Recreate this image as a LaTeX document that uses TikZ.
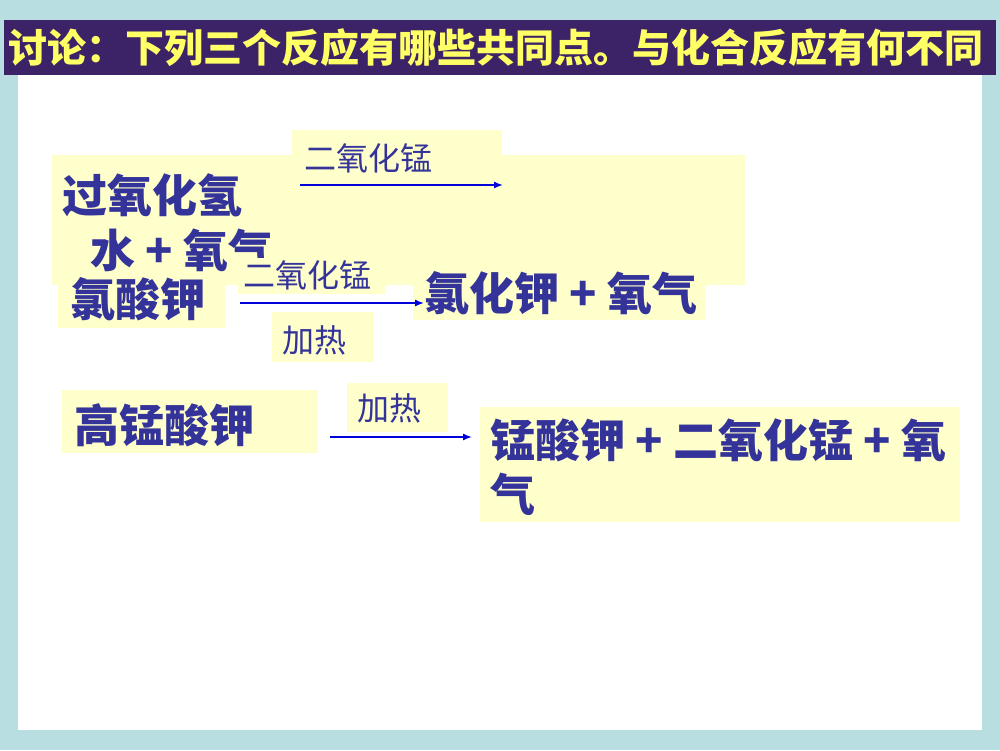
\documentclass[tikz,border=0pt]{standalone}
\usepackage{fontspec}
\newfontfamily\cjk{Noto Sans CJK SC}
\definecolor{frame}{HTML}{B8DEE2}
\definecolor{bar}{HTML}{3C2266}
\definecolor{ink}{HTML}{333399}
\definecolor{pad}{HTML}{FFFFCC}
\definecolor{gold}{HTML}{FFFF66}
\tikzset{
  padbox/.style={fill=pad, draw=none},
  bigtext/.style={anchor=west, text=ink, font=\cjk\bfseries\fontsize{45}{50}\selectfont, inner sep=0pt},
  smalltext/.style={anchor=west, text=ink, font=\cjk\fontsize{32}{35}\selectfont, inner sep=0pt},
  arr/.style={blue!85!black, line width=1.4pt, -{Latex[length=9pt,width=7pt]}}
}
\usetikzlibrary{arrows.meta}
\begin{document}
\begin{tikzpicture}[x=1pt,y=-1pt]
  % Fondo
  \fill[frame] (0,0) rectangle (1000,750);
  \useasboundingbox (0,0) rectangle (1000,750);
  \fill[white] (18,75) rectangle (982,730);
  \fill[bar] (4,20) rectangle (996,75);
  \node[anchor=west, text=gold, font=\cjk\bfseries\fontsize{39}{42}\selectfont, inner sep=0pt] (title) at (8,48) {讨论：下列三个反应有哪些共同点。与化合反应有何不同};

  % Primera reacción
  \fill[padbox] (52,155) rectangle (745,285);
  \node[bigtext] (h2o2) at (62,195) {过氧化氢};
  \node[bigtext] (water) at (90,250) {水 + 氧气};
  \fill[padbox] (292,130) rectangle (502,190);
  \node[smalltext] (cat1) at (304,158) {二氧化锰};
  \coordinate (a1s) at (300,185);
  \coordinate (a1e) at (503,185);
  \draw[arr] (a1s) -- (a1e);

  % Segunda reacción
  \fill[padbox] (238,258) rectangle (385,294);
  \node[smalltext] (cat2) at (243,275) {二氧化锰};
  \fill[padbox] (58,275) rectangle (225,328);
  \node[bigtext] (kclo3) at (70,299) {氯酸钾};
  \fill[padbox] (413,265) rectangle (705,320);
  \node[bigtext] (kcl) at (424,293) {氯化钾 + 氧气};
  \fill[padbox] (272,312) rectangle (373,362);
  \node[smalltext] (heat1) at (282,340) {加热};
  \coordinate (a2s) at (240,303);
  \draw[arr] (a2s) -- (kcl.west |- a2s);

  % Tercera reacción
  \fill[padbox] (62,390) rectangle (318,453);
  \node[bigtext] (kmno4) at (74,425) {高锰酸钾};
  \fill[padbox] (347,383) rectangle (448,432);
  \node[smalltext] (heat2) at (357,408) {加热};
  \fill[padbox] (480,407) rectangle (960,522);
  \node[bigtext] (prod3) at (490,440) {锰酸钾 + 二氧化锰 + 氧};
  \node[bigtext] (prod3b) at (490,494) {气};
  \coordinate (a3s) at (330,437);
  \coordinate (a3e) at (472,437);
  \draw[arr] (a3s) -- (a3e);
\end{tikzpicture}
\end{document}
